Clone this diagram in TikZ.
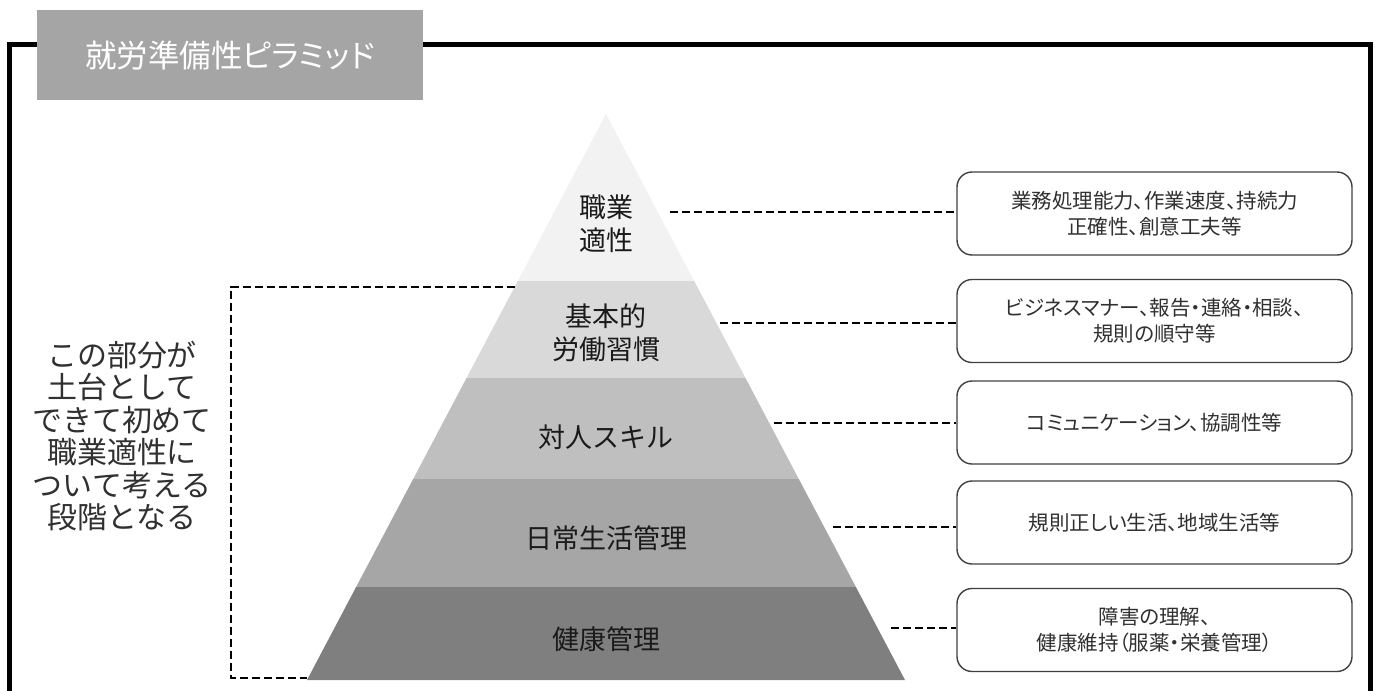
\documentclass[tikz,border=0pt]{standalone}
\usepackage{fontspec}
\setmainfont{Noto Sans CJK JP}
\newfontfamily\propfont[RawFeature=+palt]{Noto Sans CJK JP}
\definecolor{lvA}{HTML}{F2F2F2}
\definecolor{lvB}{HTML}{D9D9D9}
\definecolor{lvC}{HTML}{BFBFBF}
\definecolor{lvD}{HTML}{A6A6A6}
\definecolor{lvE}{HTML}{7F7F7F}
\definecolor{titlegray}{HTML}{A5A5A5}
\definecolor{boxline}{HTML}{404040}
\definecolor{txtdark}{HTML}{1A1A1A}
\definecolor{txtgray}{HTML}{303030}
\begin{document}
\begin{tikzpicture}[x=1pt,y=-1pt,
  frameline/.style={line width=5pt,black},
  conn/.style={line width=2.4pt,black,dash pattern=on 8pt off 4pt},
  ptext/.style={align=center,text=txtdark,font=\fontsize{27}{33}\selectfont,inner sep=0pt},
  infobox/.style={draw=boxline,line width=1.4pt,rounded corners=15pt,fill=white,
    minimum width=395pt,minimum height=83pt,align=center,text=txtgray,
    font=\propfont\fontsize{20.5}{26}\selectfont,inner sep=0pt},
  notetext/.style={align=center,text=txtgray,font=\fontsize{30}{32.5}\selectfont,inner sep=0pt},
  titlebox/.style={fill=titlegray,minimum width=386pt,minimum height=90pt,text=white,
    font=\propfont\fontsize{31.5}{36}\selectfont,inner sep=0pt}
]
\useasboundingbox (0,0) rectangle (1377,691);
\clip (0,0) rectangle (1377,691);

% frame
\draw[frameline] (37,44.5) -- (9.5,44.5) -- (9.5,700);
\draw[frameline] (423,44.5) -- (1370.5,44.5) -- (1370.5,700);

% title
\node[titlebox] (title) at (230,55) {就労準備性ピラミッド};

% pyramid levels
\fill[lvA] (606,114) -- (694.2,281) -- (517.8,281) -- cycle;
\fill[lvB] (517.8,281) -- (694.2,281) -- (745.5,378) -- (466.5,378) -- cycle;
\fill[lvC] (466.5,378) -- (745.5,378) -- (798.8,479) -- (413.2,479) -- cycle;
\fill[lvD] (413.2,479) -- (798.8,479) -- (855.9,587) -- (356.1,587) -- cycle;
\fill[lvE] (356.1,587) -- (855.9,587) -- (905,680) -- (307,680) -- cycle;

% pyramid labels
\node[ptext] (p1) at (606,224) {職業\\適性};
\node[ptext] (p2) at (606,333) {基本的\\労働習慣};
\node[ptext] (p3) at (606,437) {対人スキル};
\node[ptext] (p4) at (606,538) {日常生活管理};
\node[ptext] (p5) at (606,639) {健康管理};

% info boxes
\node[infobox] (b1) at (1154.5,213.5) {業務処理能力、作業速度、持続力\\正確性、創意工夫等};
\node[infobox] (b2) at (1154.5,321) {ビジネスマナー、報告・連絡・相談、\\規則の順守等};
\node[infobox] (b3) at (1154.5,422.5) {コミュニケーション、協調性等};
\node[infobox] (b4) at (1154.5,522.5) {規則正しい生活、地域生活等};
\node[infobox] (b5) at (1154.5,630) {障害の理解、\\健康維持（服薬・栄養管理）};

% connector start points at the pyramid edge
\coordinate (c1) at (670,212);
\coordinate (c2) at (720,323);
\coordinate (c3) at (774,423);
\coordinate (c4) at (833,527);
\coordinate (c5) at (891,628);
\draw[conn] (c1) -- (c1 -| b1.west);
\draw[conn] (c2) -- (c2 -| b2.west);
\draw[conn] (c3) -- (c3 -| b3.west);
\draw[conn] (c4) -- (c4 -| b4.west);
\draw[conn] (c5) -- (c5 -| b5.west);

% left bracket
\coordinate (bt) at (514.6,287);
\coordinate (bb) at (307,678);
\coordinate (bl) at (231,287);
\draw[conn] (bt) -- (bl) |- (bb);

% note text
\node[notetext] (note) at (122,436) {この部分が\\土台として\\できて初めて\\職業適性に\\ついて考える\\段階となる};
\end{tikzpicture}
\end{document}
